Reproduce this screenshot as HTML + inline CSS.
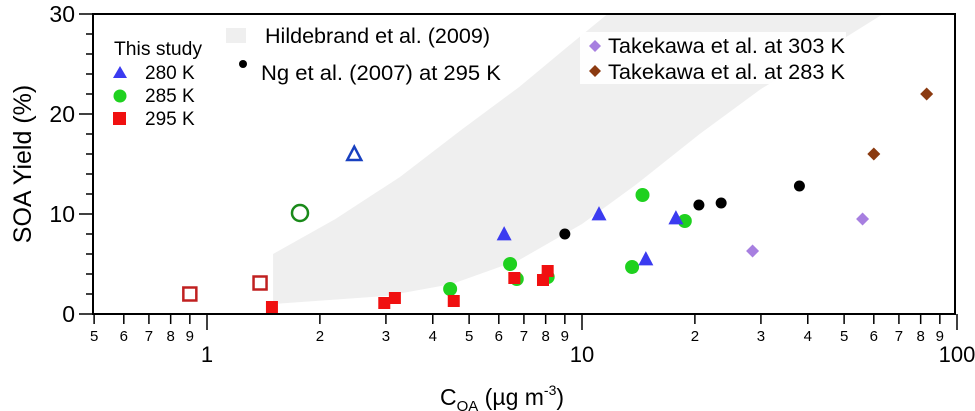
<!DOCTYPE html>
<html><head><meta charset="utf-8"><style>
html,body{margin:0;padding:0;background:#fff;}
svg{display:block;font-family:"Liberation Sans",Arial,sans-serif;}
</style></head><body>
<svg id="chart" width="975" height="411" viewBox="0 0 975 411">
<defs><clipPath id="pc"><rect x="93" y="14" width="862" height="300"/></clipPath></defs>
<g id="band" clip-path="url(#pc)"></g>
<g id="axes"></g>
<g id="marks"></g>
<g id="legend">
  <text x="114" y="55" font-size="19" textLength="88" lengthAdjust="spacingAndGlyphs">This study</text>
  <polygon points="113,78 127,78 120,66" fill="#3b3bf0"/>
  <text x="145" y="79" font-size="19">280 K</text>
  <circle cx="120" cy="96" r="6.5" fill="#1fd11f"/>
  <text x="145" y="102" font-size="19">285 K</text>
  <rect x="113" y="112" width="13" height="13" fill="#f01010"/>
  <text x="145" y="125" font-size="19">295 K</text>
  <rect x="226" y="28" width="20" height="15" fill="#efefef"/>
  <text x="265" y="43" font-size="21" textLength="225" lengthAdjust="spacingAndGlyphs">Hildebrand et al. (2009)</text>
  <circle cx="243" cy="64" r="4" fill="#000"/>
  <text x="261" y="80" font-size="21" textLength="240" lengthAdjust="spacingAndGlyphs">Ng et al. (2007)  at 295 K</text>
  <rect x="580" y="32" width="266" height="52" fill="#fff" opacity="0.9"/>
  <polygon points="595,40 601,46 595,52 589,46" fill="#a77fe0"/>
  <text x="608" y="53" font-size="21" textLength="237" lengthAdjust="spacingAndGlyphs">Takekawa et al. at 303 K</text>
  <polygon points="595,65 601,71 595,77 589,71" fill="#8b3a10"/>
  <text x="608" y="79" font-size="21" textLength="237" lengthAdjust="spacingAndGlyphs">Takekawa et al. at 283 K</text>
</g>
</svg>
<script>
const xTicksMinor=[0.5,0.6,0.7,0.8,0.9,2,3,4,5,6,7,8,9,20,30,40,50,60,70,80,90];
const xTickMinorLabels=["5","6","7","8","9","2","3","4","5","6","7","8","9","2","3","4","5","6","7","8","9"];
const xTicksMajor=[1,10,100];
const xTickMajorLabels=["1","10","100"];
const yTicksMajor=[0,10,20,30];
const yTicksMinor=[2,4,6,8,12,14,16,18,22,24,26,28];
const bandUpperX=[1.5,2.2,3.27,4.8,6.8,9,11.7];
const bandUpperY=[6,9.5,13.7,18.5,22.7,26.5,30];
const bandLowerX=[1.5,3,4.5,6.8,10,14,20.6,30,45,63.5];
const bandLowerY=[1,1.8,3,5.4,9,13,18,22.5,26.5,30];
const open280X=[2.47], open280Y=[16];
const open285X=[1.77], open285Y=[10.1];
const open295X=[0.9,1.385], open295Y=[2.0,3.1];
const s295X=[1.49,2.97,3.17,4.55,6.6,7.87,8.1];
const s295Y=[0.7,1.1,1.6,1.3,3.6,3.4,4.3];
const s285X=[4.45,6.43,6.7,8.1,13.6,14.5,18.8];
const s285Y=[2.5,5.0,3.5,3.7,4.7,11.9,9.3];
const s280X=[6.2,11.1,14.8,17.8];
const s280Y=[8.0,10.0,5.5,9.6];
const ngX=[9.0,20.5,23.5,38];
const ngY=[8.0,10.9,11.1,12.8];
const tk303X=[28.5,56], tk303Y=[6.3,9.5];
const tk283X=[60,83], tk283Y=[16,22];

const NS="http://www.w3.org/2000/svg";
const X=v=>207+375*Math.log10(v);
const Y=v=>314-10*v;
function mk(tag,attrs,parent){const e=document.createElementNS(NS,tag);for(const k in attrs)e.setAttribute(k,attrs[k]);document.getElementById(parent).appendChild(e);return e;}

let pts=[];
bandUpperX.forEach((x,i)=>pts.push(X(x)+","+Y(bandUpperY[i])));
for(let i=bandLowerX.length-1;i>=0;i--)pts.push(X(bandLowerX[i])+","+Y(bandLowerY[i]));
let band=mk("polygon",{points:pts.join(" "),fill:"#efefef"},"band");



let fr=mk("rect",{x:93,y:14,width:862,height:300,fill:"none",stroke:"#000","stroke-width":2},"axes");


xTicksMinor.forEach((v,i)=>{
  const t=mk("line",{x1:X(v),x2:X(v),y1:314,y2:324,stroke:"#000","stroke-width":1.5},"axes");
  
  
  const l=mk("text",{x:X(v),y:341,"font-size":15,"text-anchor":"middle"},"axes");l.textContent=xTickMinorLabels[i];
  
  
});
xTicksMajor.forEach((v,i)=>{
  const t=mk("line",{x1:X(v),x2:X(v),y1:314,y2:330,stroke:"#000","stroke-width":1.5},"axes");
  
  
  const l=mk("text",{x:X(v),y:362,"font-size":22,"text-anchor":"middle"},"axes");l.textContent=xTickMajorLabels[i];
  
  
});
yTicksMajor.forEach(v=>{
  const t=mk("line",{x1:79,x2:93,y1:Y(v),y2:Y(v),stroke:"#000","stroke-width":1.5},"axes");
  
  
  const l=mk("text",{x:75,y:Y(v)+8,"font-size":23,"text-anchor":"end"},"axes");l.textContent=String(v);
  
  
});
yTicksMinor.forEach(v=>{
  const t=mk("line",{x1:86,x2:93,y1:Y(v),y2:Y(v),stroke:"#000","stroke-width":1.5},"axes");
  
  
});
let yt=mk("text",{x:0,y:0,"font-size":25,"text-anchor":"middle",transform:"translate(31,164) rotate(-90)"},"axes");
yt.textContent="SOA Yield (%)";


let xt=mk("text",{x:502,y:405,"font-size":23,"text-anchor":"middle"},"axes");
xt.innerHTML='C<tspan font-size="15" dy="6">OA</tspan><tspan dy="-6"> (µg m</tspan><tspan font-size="14" dy="-10">-3</tspan><tspan dy="10">)</tspan>';



function tri(x,y,s){return `${x-s},${y+s*0.85} ${x+s},${y+s*0.85} ${x},${y-s*1.05}`;}
function dia(x,y,s){return `${x},${y-s} ${x+s},${y} ${x},${y+s} ${x-s},${y}`;}
open280X.forEach((v,i)=>{const e=mk("polygon",{points:tri(X(v),Y(open280Y[i]),7),fill:"none",stroke:"#1840c0","stroke-width":2.5},"marks");
 
 });
open285X.forEach((v,i)=>{const e=mk("circle",{cx:X(v),cy:Y(open285Y[i]),r:8,fill:"none",stroke:"#1a8a1a","stroke-width":2.5},"marks");
 
 });
open295X.forEach((v,i)=>{const e=mk("rect",{x:X(v)-6.5,y:Y(open295Y[i])-6.5,width:13,height:13,fill:"none",stroke:"#c02020","stroke-width":2.5},"marks");
 
 });
s285X.forEach((v,i)=>{const e=mk("circle",{cx:X(v),cy:Y(s285Y[i]),r:7,fill:"#1fd11f"},"marks");
 
 });
s295X.forEach((v,i)=>{const e=mk("rect",{x:X(v)-6,y:Y(s295Y[i])-6,width:12,height:12,fill:"#f01010"},"marks");
 
 });
s280X.forEach((v,i)=>{const e=mk("polygon",{points:tri(X(v),Y(s280Y[i]),7.5),fill:"#3b3bf0"},"marks");
 
 });
ngX.forEach((v,i)=>{const e=mk("circle",{cx:X(v),cy:Y(ngY[i]),r:5.5,fill:"#000"},"marks");
 
 });
tk303X.forEach((v,i)=>{const e=mk("polygon",{points:dia(X(v),Y(tk303Y[i]),6.5),fill:"#a77fe0"},"marks");
 
 });
tk283X.forEach((v,i)=>{const e=mk("polygon",{points:dia(X(v),Y(tk283Y[i]),6.5),fill:"#8b3a10"},"marks");
 
 });
</script>
</body></html>
